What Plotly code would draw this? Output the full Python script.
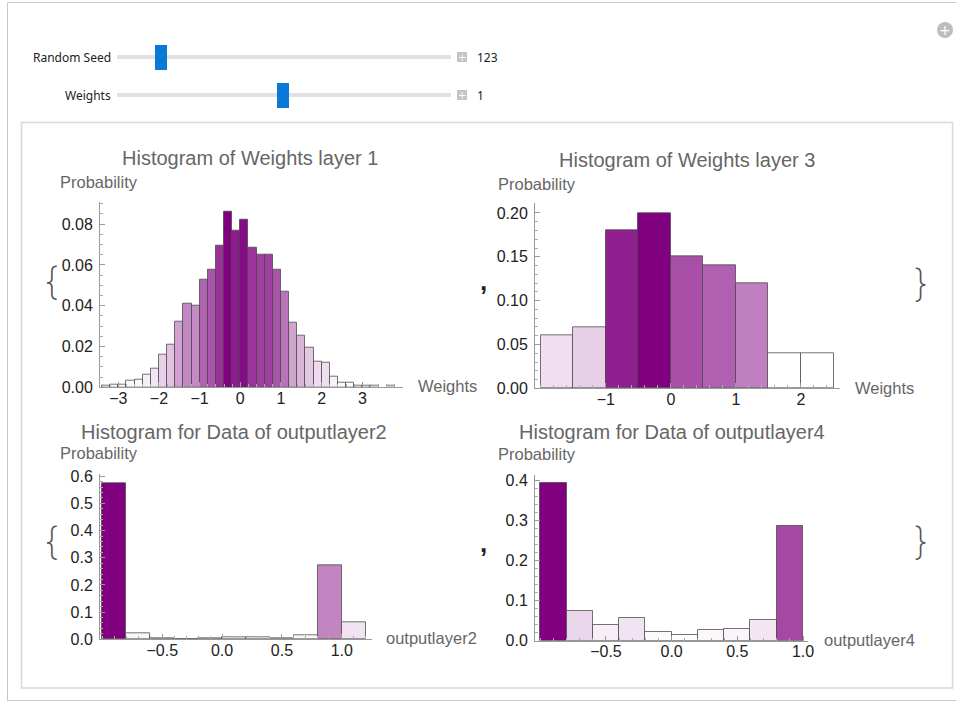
import numpy as np
import plotly.graph_objects as go

W, H = 956, 702

# ---------------- data ----------------
l1_edges = [round(-3.4 + 0.2 * i, 1) for i in range(37)]
l1_prob = [0.0007, 0.0013, 0.0013, 0.003, 0.0035, 0.006, 0.0093, 0.016, 0.021, 0.032,
           0.041, 0.040, 0.053, 0.0575, 0.0695, 0.086, 0.0767, 0.0823, 0.0686, 0.065,
           0.065, 0.0575, 0.0468, 0.0315, 0.0254, 0.0192, 0.0127, 0.0119, 0.0052, 0.0021,
           0.0021, 0.0007, 0.0007, 0.0007, 0.0, 0.0007]

l3_edges = [-2.0, -1.5, -1.0, -0.5, 0.0, 0.5, 1.0, 1.5, 2.0, 2.5]
l3_prob = [0.06, 0.07, 0.18, 0.20, 0.15, 0.14, 0.12, 0.04, 0.04]

o2_edges = [-1.0, -0.8, -0.6, -0.4, -0.2, 0.0, 0.2, 0.4, 0.6, 0.8, 1.0, 1.2]
o2_prob = [0.573, 0.023, 0.005, 0.001, 0.004, 0.009, 0.009, 0.004, 0.015, 0.274, 0.063]

o4_edges = [-1.0, -0.8, -0.6, -0.4, -0.2, 0.0, 0.2, 0.4, 0.6, 0.8, 1.0]
o4_prob = [0.394, 0.074, 0.040, 0.056, 0.022, 0.015, 0.0275, 0.030, 0.0525, 0.2875]

titles = ["Histogram of Weights layer 1", "Histogram of Weights layer 3",
          "Histogram for Data of outputlayer2", "Histogram for Data of outputlayer4"]
xlabels = ["Weights", "Weights", "outputlayer2", "outputlayer4"]
ylabel = "Probability"

l1_xticks = [-3, -2, -1, 0, 1, 2, 3]
l3_xticks = [-1, 0, 1, 2]
o_xticks = [-0.5, 0.0, 0.5, 1.0]
l1_yticks = [0.0, 0.02, 0.04, 0.06, 0.08]
l3_yticks = [0.0, 0.05, 0.10, 0.15, 0.20]
o2_yticks = [0.0, 0.1, 0.2, 0.3, 0.4, 0.5, 0.6]
o4_yticks = [0.0, 0.1, 0.2, 0.3, 0.4]

seed_value = 123
weights_value = 1

# ---------------- helpers ----------------
def px(x):
    return x / W

def py(y):
    return 1 - y / H

def blend(vals):
    v = [p for p in vals if p > 0]
    lo, hi = min(v), max(v)
    cols = []
    for p in vals:
        t = (p - lo) / (hi - lo) if hi > lo else 1
        t = min(max(t, 0), 1)
        r = round(255 * (1 - t) + 128 * t)
        g = round(255 * (1 - t))
        b = round(255 * (1 - t) + 128 * t)
        cols.append(f"rgb({r},{g},{b})")
    return cols

def fmt(v, nd):
    s = f"{abs(v):.{nd}f}"
    return ("\u2212" + s) if v < 0 else s

# pixel boxes of the four plot frames: x0, x1, ytop, ybottom
boxes = [(100, 403, 201.7, 387.3), (535, 840, 203.3, 388.3),
         (100, 371.7, 474.3, 639.3), (535, 808.3, 475, 640.7)]
xranges = [[-3.45, 4.0], [-2.09, 2.6], [-1.02, 1.25], [-1.04, 1.04]]
yranges = [[0, 0.091], [0, 0.211], [0, 0.607], [0, 0.414]]
xtickv = [l1_xticks, l3_xticks, o_xticks, o_xticks]
xnd = [0, 0, 1, 1]
ytickv = [l1_yticks, l3_yticks, o2_yticks, o4_yticks]
ynd = [2, 2, 1, 1]
xminor = [0.2, 0.2, 0.1, 0.1]
yminor = [0.005, 0.01, 0.02, 0.02]
datasets = [(l1_edges, l1_prob), (l3_edges, l3_prob), (o2_edges, o2_prob), (o4_edges, o4_prob)]
title_pos = [(250, 158), (687, 160), (234, 432), (672, 432)]
ylab_pos = [(58, 182), (496, 184), (58, 453), (496, 454)]
xlab_pos = [(416, 386), (853, 388), (384, 638), (822, 640)]

fig = go.Figure()
layout = dict(width=W, height=H,
              margin=dict(l=0, r=0, t=0, b=0, pad=0, autoexpand=False),
              autosize=False,
              paper_bgcolor="white", plot_bgcolor="rgba(0,0,0,0)",
              showlegend=False, bargap=0,
              font=dict(family="Liberation Sans, Arial, sans-serif", color="#333"))
annotations = []
shapes = []

for i, ((edges, prob), box) in enumerate(zip(datasets, boxes)):
    xa = "x" if i == 0 else f"x{i+1}"
    ya = "y" if i == 0 else f"y{i+1}"
    centers = [(edges[k] + edges[k + 1]) / 2 for k in range(len(prob))]
    widths = [edges[k + 1] - edges[k] for k in range(len(prob))]
    keep = [k for k in range(len(prob)) if prob[k] > 0]
    cols = blend(prob)
    fig.add_trace(go.Bar(
        x=[centers[k] for k in keep], y=[prob[k] for k in keep],
        width=[widths[k] for k in keep],
        marker=dict(color=[cols[k] for k in keep],
                    line=dict(color="rgba(70,70,70,0.75)", width=1)),
        xaxis=xa, yaxis=ya, hoverinfo="x+y"))
    x0, x1, yt, yb = box
    axcommon = dict(showgrid=False, zeroline=False, showline=True, linecolor="#999",
                    linewidth=1, ticks="inside", tickcolor="#999", ticklen=5,
                    automargin=False,
                    tickfont=dict(size=16, color="#222"))
    layout["xaxis" if i == 0 else f"xaxis{i+1}"] = dict(
        axcommon, domain=[px(x0), px(x1)], range=xranges[i], anchor=ya,
        ticklabelstandoff=-4,
        tickvals=xtickv[i], ticktext=[fmt(v, xnd[i]) for v in xtickv[i]],
        minor=dict(dtick=xminor[i], tick0=0, ticks="inside", ticklen=3, tickcolor="#aaa"))
    layout["yaxis" if i == 0 else f"yaxis{i+1}"] = dict(
        axcommon, domain=[py(yb), py(yt)], range=yranges[i], anchor=xa,
        ticklabelstandoff=3,
        tickvals=ytickv[i], ticktext=[fmt(v, ynd[i]) for v in ytickv[i]],
        minor=dict(dtick=yminor[i], tick0=0, ticks="inside", ticklen=3, tickcolor="#aaa"))
    tx, ty = title_pos[i]
    annotations.append(dict(x=px(tx), y=py(ty), xref="paper", yref="paper", text=titles[i],
                            showarrow=False, xanchor="center", yanchor="middle",
                            font=dict(size=20, color="#666")))
    lx, ly = ylab_pos[i]
    annotations.append(dict(x=px(lx), y=py(ly), xref="paper", yref="paper", text=ylabel,
                            showarrow=False, xanchor="left", yanchor="middle",
                            font=dict(size=16.5, color="#666")))
    lx, ly = xlab_pos[i]
    annotations.append(dict(x=px(lx), y=py(ly), xref="paper", yref="paper", text=xlabels[i],
                            showarrow=False, xanchor="left", yanchor="middle",
                            font=dict(size=16.5, color="#666")))

# braces and commas of the list display
for (tx, ty, t) in [(51, 281, "{"), (920, 283, "}"), (51, 541, "{"), (920, 541, "}")]:
    annotations.append(dict(x=px(tx), y=py(ty), xref="paper", yref="paper", text=t,
                            showarrow=False, xanchor="center", yanchor="middle",
                            font=dict(size=38, color="#555", family="Inter", weight=200)))
for (tx, ty) in [(483, 281), (483, 543)]:
    annotations.append(dict(x=px(tx), y=py(ty), xref="paper", yref="paper", text=",",
                            showarrow=False, xanchor="center", yanchor="middle",
                            font=dict(size=26, color="#222", family="Liberation Sans",
                                      weight="bold")))

# frames
shapes.append(dict(type="rect", xref="paper", yref="paper", x0=px(7.5), x1=px(970),
                   y0=py(700.5), y1=py(2.5), line=dict(color="#c8c8c8", width=1)))
shapes.append(dict(type="rect", xref="paper", yref="paper", x0=px(21.5), x1=px(952.5),
                   y0=py(688), y1=py(122.5), line=dict(color="#d8d8d8", width=1.5)))

# controls
ctrl_font = dict(family="Noto Sans, sans-serif", size=12, color="#222")
for (label, yc, thumb_x, val) in [("Random Seed", 57, 161, seed_value),
                                  ("Weights", 95, 283, weights_value)]:
    annotations.append(dict(x=px(113), y=py(yc), xref="paper", yref="paper", text=label,
                            showarrow=False, xanchor="right", yanchor="middle", font=ctrl_font))
    shapes.append(dict(type="rect", xref="paper", yref="paper", x0=px(117), x1=px(451),
                       y0=py(yc + 2), y1=py(yc - 2), line=dict(width=0), fillcolor="#e2e2e2"))
    shapes.append(dict(type="rect", xref="paper", yref="paper", x0=px(thumb_x - 6),
                       x1=px(thumb_x + 6), y0=py(yc + 13), y1=py(yc - 12),
                       line=dict(width=0), fillcolor="#0a78d7"))
    shapes.append(dict(type="rect", xref="paper", yref="paper", x0=px(457), x1=px(467),
                       y0=py(yc + 5), y1=py(yc - 5), line=dict(width=0), fillcolor="#c4c4c4"))
    annotations.append(dict(x=px(462), y=py(yc), xref="paper", yref="paper", text="+",
                            showarrow=False, xanchor="center", yanchor="middle",
                            font=dict(size=10, color="white", family="DejaVu Sans")))
    annotations.append(dict(x=px(475), y=py(yc), xref="paper", yref="paper", text=str(val),
                            showarrow=False, xanchor="left", yanchor="middle", font=ctrl_font))

# top-right options icon
shapes.append(dict(type="circle", xref="paper", yref="paper", x0=px(937), x1=px(953),
                   y0=py(38), y1=py(22), line=dict(width=0), fillcolor="#bdbdbd"))
annotations.append(dict(x=px(945), y=py(30), xref="paper", yref="paper", text="+",
                        showarrow=False, xanchor="center", yanchor="middle",
                        font=dict(size=14, color="white", family="DejaVu Sans")))

layout["annotations"] = annotations
layout["shapes"] = shapes
fig.update_layout(**layout)
fig.write_html("out.html",
               config={"displayModeBar": False},
               post_script="document.body.style.margin='0';document.body.style.overflow='hidden';")
